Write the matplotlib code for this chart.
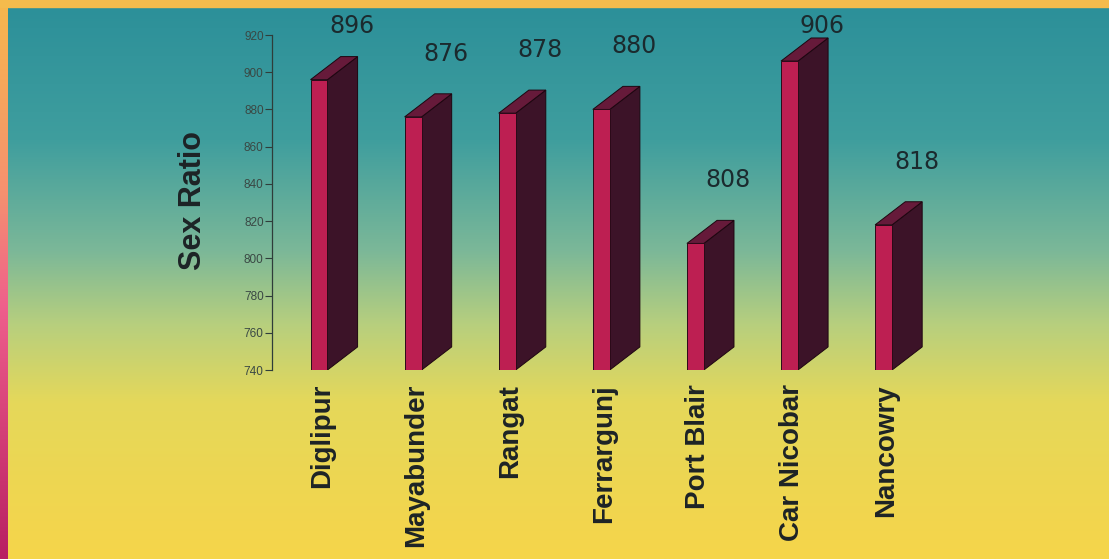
import numpy as np
import matplotlib
matplotlib.use('Agg')
import matplotlib.pyplot as plt
from matplotlib.patches import Polygon
from matplotlib.colors import to_rgb

# data
places = ['Diglipur', 'Mayabunder', 'Rangat', 'Ferrargunj', 'Port Blair', 'Car Nicobar', 'Nancowry']
sex_ratio = [896, 876, 878, 880, 808, 906, 818]
yticks = [740, 760, 780, 800, 820, 840, 860, 880, 900, 920]

fig = plt.figure(figsize=(11.09, 5.59), dpi=100)

#%% background: vertical gradient + pink strip on the left + orange top border
bg = fig.add_axes([0, 0, 1, 1])
bg.set_axis_off()
stops = [0.0, 0.25, 0.45, 0.58, 0.72, 1.0]   # from top
cols = ['#2b8f99', '#3f9e9e', '#7cb898', '#b7cf7e', '#e5d85a', '#f6d54a']
rgb = np.array([to_rgb(c) for c in cols])
t = np.linspace(0, 1, 400)
grad = np.stack([np.interp(t, stops, rgb[:, k]) for k in range(3)], axis=1)
img = np.repeat(grad[:, None, :], 2, axis=1)
bg.imshow(img, extent=[0, 1, 0, 1], aspect='auto', transform=bg.transAxes)

strip_stops = [0.0, 0.35, 0.55, 1.0]
strip_cols = ['#f7b84c', '#f59070', '#ef5f8c', '#b81e62']
srgb = np.array([to_rgb(c) for c in strip_cols])
sgrad = np.stack([np.interp(t, strip_stops, srgb[:, k]) for k in range(3)], axis=1)
bg.imshow(np.repeat(sgrad[:, None, :], 2, axis=1), extent=[0, 8 / 1109, 0, 1],
          aspect='auto', transform=bg.transAxes)
bg.axhspan(1 - 7 / 559, 1, color='#f5bb4c')
bg.set_xlim(0, 1)
bg.set_ylim(0, 1)

#%% chart
ax = fig.add_axes([272 / 1109, 189 / 559, 728 / 1109, 335 / 559])
ax.patch.set_alpha(0)

x = np.arange(len(places))
w = 0.18      # front face width
dx = 0.32     # depth to the right
dy = 12.4     # depth upward (data units)
base = 740

ax.bar(x, np.array(sex_ratio) - base, bottom=base, width=w,
       color='#bd1f52', edgecolor='#2a0a18', linewidth=0.7, zorder=3)
for xi, v in zip(x, sex_ratio):
    r = xi + w / 2
    l = xi - w / 2
    side = Polygon([(r, base), (r + dx, base + dy), (r + dx, v + dy), (r, v)],
                   closed=True, facecolor='#3c1328', edgecolor='#1e0610', linewidth=0.7, zorder=2)
    top = Polygon([(l, v), (r, v), (r + dx, v + dy), (l + dx, v + dy)],
                  closed=True, facecolor='#661a3a', edgecolor='#1e0610', linewidth=0.7, zorder=2)
    ax.add_patch(side)
    ax.add_patch(top)
    # labels float above the bars, but not above the top of the frame
    ax.text(xi + 0.35, min(v + 34, 925), str(v), ha='center', va='center', fontsize=17,
            color='#1b2a2e', family='DejaVu Sans', clip_on=False)

ax.set_xlim(-0.4995, 7.237)
ax.set_ylim(740, 920)
ax.set_yticks(yticks)
ax.set_yticklabels([str(v) for v in yticks], fontsize=8.5, color='#3a4844',
                   family='Liberation Sans')
ax.tick_params(axis='y', length=5, width=0.8, color='#2f3d3a', pad=1)
ax.set_xticks(x + 0.03)
ax.set_xticklabels(places, rotation=90, fontsize=20, fontweight='bold',
                   color='#1d2326', family='Liberation Sans')
ax.tick_params(axis='x', length=0, pad=10)
for s in ['top', 'right', 'bottom']:
    ax.spines[s].set_visible(False)
ax.spines['left'].set_color('#2f3d3a')
ax.spines['left'].set_linewidth(0.9)

fig.text(193 / 1109, 1 - 201 / 559, 'Sex Ratio', rotation=90, ha='center', va='center',
         fontsize=22, fontweight='bold', color='#1d2326', family='Liberation Sans')

fig.savefig('out.png', dpi=100)
